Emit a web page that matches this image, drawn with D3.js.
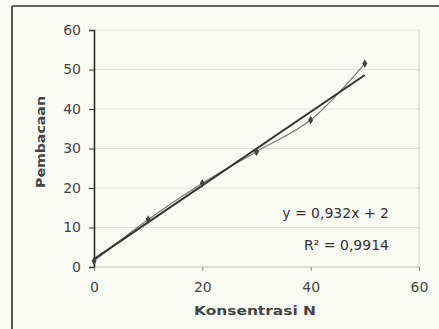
<!DOCTYPE html>
<html>
<head>
<meta charset="utf-8">
<script src="https://cdn.jsdelivr.net/npm/d3@7"></script>
<style>
  body { margin: 0; background: #fbfbf6; }
  text { font-family: "DejaVu Sans", Arial, sans-serif; }
</style>
</head>
<body>
<div id="chart"></div>
<script>
// data
var konsentrasi = [0, 10, 20, 30, 40, 50];
var pembacaan = [1.5, 12, 21.2, 29.2, 37.2, 51.5];
var xTicks = [0, 20, 40, 60];
var yTicks = [0, 10, 20, 30, 40, 50, 60];
var slope = 0.932, intercept = 2;
var equationText = ["y = 0,932x + 2", "R\u00b2 = 0,9914"];

var W = 439, H = 329;
var svg = d3.select("#chart").append("svg")
  .attr("width", W).attr("height", H);

svg.append("rect").attr("width", W).attr("height", H).attr("fill", "#fbfbf6");

// outer chart frame (only left + top visible in the scan)
svg.append("line").attr("x1", 12).attr("y1", 6).attr("x2", 12).attr("y2", H)
  .attr("stroke", "#555").attr("stroke-width", 2);
svg.append("line").attr("x1", 12).attr("y1", 6).attr("x2", W).attr("y2", 6)
  .attr("stroke", "#666").attr("stroke-width", 2);

var x = d3.scaleLinear().domain([0, 60]).range([94, 419]);
var y = d3.scaleLinear().domain([0, 60]).range([267, 30]);

// gridlines
svg.append("g").selectAll("line").data(yTicks.slice(1)).join("line")
  .attr("x1", x(0)).attr("x2", x(60))
  .attr("y1", d => y(d)).attr("y2", d => y(d))
  .attr("stroke", "#ddd").attr("stroke-width", 1);

// plot area border
svg.append("line").attr("x1", x(60)).attr("x2", x(60)).attr("y1", y(60)).attr("y2", y(0))
  .attr("stroke", "#ccc");
svg.append("line").attr("x1", x(0)).attr("x2", x(60)).attr("y1", y(0)).attr("y2", y(0))
  .attr("stroke", "#bbb");

// y axis
var yAxis = svg.append("g").attr("transform", "translate(" + x(0) + ",0)")
  .call(d3.axisLeft(y).tickValues(yTicks).tickSize(5).tickPadding(8));
yAxis.select(".domain").attr("stroke", "#222").attr("stroke-width", 1.5);
yAxis.selectAll(".tick line").attr("stroke", "#333");
yAxis.selectAll("text").attr("font-size", 14).attr("fill", "#444");

// x axis
var xAxis = svg.append("g").attr("transform", "translate(0," + y(0) + ")")
  .call(d3.axisBottom(x).tickValues(xTicks).tickSize(4).tickPadding(11));
xAxis.select(".domain").remove();
xAxis.selectAll(".tick line").attr("stroke", "#888");
xAxis.selectAll("text").attr("font-size", 14).attr("fill", "#444");

// axis titles
svg.append("text").attr("x", 255).attr("y", 315).attr("text-anchor", "middle")
  .attr("font-size", 13).attr("font-weight", "bold").attr("fill", "#444")
  .attr("textLength", 122).attr("lengthAdjust", "spacingAndGlyphs")
  .text("Konsentrasi N");
svg.append("text").attr("transform", "translate(45,142) rotate(-90)")
  .attr("text-anchor", "middle")
  .attr("font-size", 13).attr("font-weight", "bold").attr("fill", "#444")
  .attr("textLength", 92).attr("lengthAdjust", "spacingAndGlyphs")
  .text("Pembacaan");

var pts = konsentrasi.map((k, i) => [k, pembacaan[i]]);

// smoothed data line
svg.append("path").datum(pts)
  .attr("d", d3.line().x(d => x(d[0])).y(d => y(d[1])).curve(d3.curveCatmullRom))
  .attr("fill", "none").attr("stroke", "#777").attr("stroke-width", 1.2);

// linear trendline
var xEnds = [0, 50];
svg.append("path").datum(xEnds)
  .attr("d", d3.line().x(d => x(d)).y(d => y(slope * d + intercept)))
  .attr("fill", "none").attr("stroke", "#333").attr("stroke-width", 2);

// markers
svg.append("g").selectAll("path").data(pts).join("path")
  .attr("transform", d => "translate(" + x(d[0]) + "," + y(d[1]) + ")")
  .attr("d", d3.symbol().type(d3.symbolDiamond).size(22))
  .attr("fill", "#444");

// equation label
svg.append("g").selectAll("text").data(equationText).join("text")
  .attr("x", 389).attr("y", (d, i) => 218 + i * 32)
  .attr("text-anchor", "end").attr("font-size", 14).attr("fill", "#333")
  .text(d => d);
</script>
</body>
</html>
